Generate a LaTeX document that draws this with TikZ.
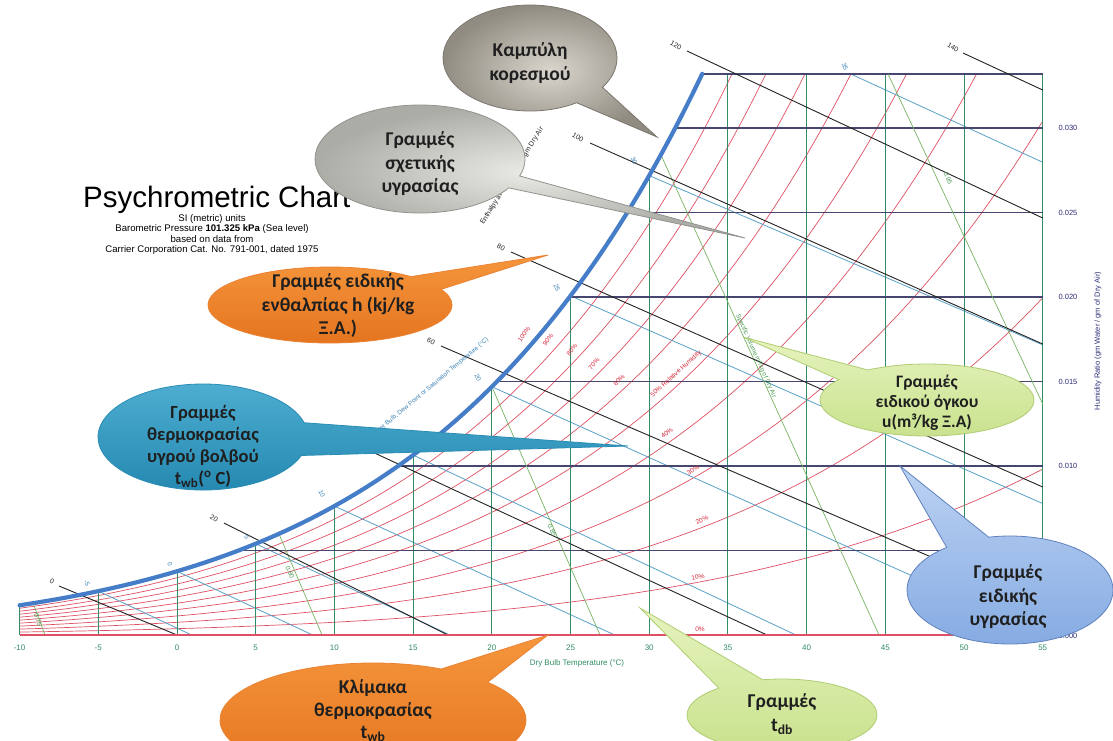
\documentclass[tikz,border=0pt]{standalone}
\usepackage{fontspec}
\setmainfont{Liberation Sans}
\newfontfamily\cbfont{Carlito}
\usetikzlibrary{shapes.callouts}
\definecolor{satblue}{RGB}{70,125,200}
\definecolor{rhred}{RGB}{222,80,100}
\definecolor{rhtext}{RGB}{215,40,60}
\definecolor{wbblue}{RGB}{90,160,200}
\definecolor{wbtext}{RGB}{60,130,180}
\definecolor{dbgreen}{RGB}{50,140,100}
\definecolor{hgray}{RGB}{70,70,110}
\definecolor{volgreen}{RGB}{120,180,100}
\definecolor{voltext}{RGB}{70,150,80}
\definecolor{enthblack}{RGB}{35,35,35}
\definecolor{axisblue}{RGB}{45,45,120}
\definecolor{grayin}{RGB}{218,214,205}
\definecolor{grayout}{RGB}{145,140,130}
\definecolor{lgrayin}{RGB}{235,235,230}
\definecolor{lgrayout}{RGB}{172,172,167}
\definecolor{orangetop}{RGB}{245,150,60}
\definecolor{orangebot}{RGB}{228,115,30}
\definecolor{orangeline}{RGB}{235,130,50}
\definecolor{tealtop}{RGB}{80,175,210}
\definecolor{tealbot}{RGB}{35,135,175}
\definecolor{tealline}{RGB}{40,140,180}
\definecolor{lgreentop}{RGB}{230,243,190}
\definecolor{lgreenbot}{RGB}{200,225,140}
\definecolor{lgreenline}{RGB}{175,205,115}
\definecolor{lbluetop}{RGB}{188,210,242}
\definecolor{lbluebot}{RGB}{132,170,226}
\definecolor{lblueline}{RGB}{95,130,190}
\tikzset{
  satcurve/.style={satblue, line width=4.2pt, line cap=round},
  rhline/.style={rhred, line width=0.7pt},
  wbline/.style={wbblue, line width=0.8pt},
  dbline/.style={dbgreen, line width=0.9pt},
  hline/.style={hgray, line width=1.1pt},
  enthline/.style={enthblack, line width=0.9pt},
  volline/.style={volgreen, line width=0.7pt},
  rhlab/.style={text=rhtext, font=\fontsize{6.5}{7}\selectfont, inner sep=0.3pt},
  wblab/.style={text=wbtext, font=\fontsize{6.5}{7}\selectfont, inner sep=0.3pt, rotate=-65},
  hlab/.style={text=enthblack, font=\fontsize{7}{8}\selectfont, inner sep=0.3pt, rotate=-30},
  vlab/.style={text=voltext, font=\fontsize{6.5}{7}\selectfont, inner sep=0.3pt},
  dblab/.style={text=dbgreen, font=\fontsize{8}{9}\selectfont, inner sep=0.5pt},
  rlab/.style={text=axisblue, font=\fontsize{7.5}{9}\selectfont, inner sep=0.5pt},
  bubble/.style={ellipse callout, inner sep=0pt, outer sep=0pt, line width=0.8pt},
  btext/.style={align=center, text=black!88, font=\cbfont\bfseries\fontsize{19.5}{23.5}\selectfont, inner sep=0pt},
}
\begin{document}
\begin{tikzpicture}[x=1pt,y=-1pt,
  declare function={
    psat(\tq)=0.61078*exp(17.27*\tq/(\tq+237.3));
    gw(\tq,\pq)=622*\pq*psat(\tq)/(101.325-\pq*psat(\tq));
    px(\tq)=177+15.74*\tq;
    py(\tq,\pq)=635-16.9*gw(\tq,\pq);
  }]
\clip (0,0) rectangle (1113,740);
\fill[white] (0,0) rectangle (1113,740);

% ---------- chart grid ----------
\begin{scope}
  \clip (19.6,74) rectangle (1042.7,635);
  \foreach \r in {1,...,9}
    \draw[rhline] plot[domain=-10:55,samples=100,smooth] ({px(\x)},{py(\x,\r/10)});
  \foreach \tw/\sl in {-5/0.47,0/0.47,5/0.47,10/0.46,15/0.47,20/0.45,25/0.44,30/0.43,35/0.46}
    \draw[wbline] ({px(\tw)},{py(\tw,1)}) -- ++(700,{700*\sl});
\end{scope}

\foreach \tv in {-10,-5,...,30}
  \draw[dbline] ({px(\tv)},635) -- ({px(\tv)},{py(\tv,1)});
\foreach \tv in {35,40,...,55}
  \draw[dbline] ({px(\tv)},635) -- ({px(\tv)},74);
\foreach \xs/\yv in {238.5/550.5,398.3/466,497.1/381.5,569.6/297,627.2/212.5,675.2/128,702/74}
  \draw[hline] (\xs,\yv) -- (1042.7,\yv);

% specific volume lines
\draw[volline] (33,603) -- (45,635);
\draw[volline] (279,534) -- (322,635);
\draw[volline] (492,387) -- (600,635);
\draw[volline] (661,155) -- (879,635);
\draw[volline] (888,74) -- (1042.7,404);

% enthalpy lines
\draw[enthline] (59,586) -- (177,635);
\draw[enthline] (224,523) -- (448,635);
\draw[enthline] (340,437) -- (767,635);
\draw[enthline] (441,346) -- (1042.7,605);
\draw[enthline] (511,252) -- (1042.7,487);
\draw[enthline] (590,143) -- (1042.7,344);
\draw[enthline] (687,51) -- (1042.7,218);
\draw[enthline] (963,53) -- (1042.7,90);

% 0 % line
\draw[rhred, line width=1.1pt] (19.6,635) -- (1042.7,635);

% saturation curve
\draw[satcurve] plot[domain=-10:33.37,samples=70,smooth] ({px(\x)},{py(\x,1)});

% ---------- labels ----------
\foreach \tv in {-10,-5,...,55}
  \node[dblab] (bx\tv) at ({px(\tv)},648) {\tv};
\node[dblab] (dbtitle) at (577,663) {Dry Bulb Temperature (°C)};

\foreach \w/\yv [count=\i] in {0.030/128,0.025/212.5,0.020/297,0.015/381.5,0.010/466,0.005/550.5,0.000/636}
  \node[rlab] (rl\i) at (1068,\yv) {\w};
\node[rlab, rotate=90] (rtitle) at (1098,341) {Humidity Ratio (gm Water / gm of Dry Air)};

\foreach \tx/\xx/\yy/\ang [count=\i] in {100\%/524/334/55, 90\%/548/340/52, 80\%/572/350/50, 70\%/594/364/48, 60\%/619/380/46, 40\%/667/433/37, 30\%/693/470/31, 20\%/702/520/23, 10\%/698/577/14, 0\%/700/629/0}
  \node[rhlab, rotate=\ang] (rh\i) at (\xx,\yy) {\tx};
\node[rhlab, rotate=42] (rh50) at (676,374) {50\% Relative Humidity};

\foreach \tx/\xx/\yy [count=\i] in {-5/87/583, 0/170/564, 5/247/537, 10/322/494, 15/400/442, 20/478/378, 25/557/288, 30/634/161, 35/845/67}
  \node[wblab] (wb\i) at (\xx,\yy) {\tx};
\node[text=wbtext, font=\fontsize{6.3}{7}\selectfont, rotate=40, inner sep=0pt] (wbtitle) at (432,386) {Wet Bulb, Dew Point or Saturation Temperature (°C)};

\foreach \tx/\xx/\yy [count=\i] in {0/52/581, 20/214/518, 40/330/432, 60/431/341, 80/501/247, 100/578/137, 120/676/45, 140/953/47}
  \node[hlab] (hl\i) at (\xx,\yy) {\tx};
\node[text=enthblack, font=\fontsize{7}{8}\selectfont, rotate=58, inner sep=0pt] (htitle) at (512,176) {Enthalpy at Saturation J / gm Dry Air};

\node[vlab, rotate=-72] (v75) at (38,620) {0.75};
\node[vlab, rotate=-67] (v80) at (290,572) {0.80};
\node[vlab, rotate=-67] (v85) at (552,530) {0.85};
\node[vlab, rotate=-65] (v95) at (948,178) {0.95};
\node[vlab, rotate=-66, font=\fontsize{6.3}{7}\selectfont] (vtitle) at (756,356) {Specific Volume m³/kg of Dry Air};

% ---------- title ----------
\node[anchor=base west, inner sep=0pt, font=\fontsize{29.5}{32}\selectfont] (title) at (83,207) {Psychrometric Chart};
\node[anchor=north, align=center, inner sep=0pt, font=\fontsize{9.6}{10.6}\selectfont] (subtitle) at (212,214)
  {SI (metric) units\\Barometric Pressure \textbf{101.325 kPa} (Sea level)\\based on data from\\Carrier Corporation Cat. No. 791-001, dated 1975};

% ---------- callouts ----------
\node[bubble, minimum width=174pt, minimum height=106pt, callout absolute pointer={(657,137)}, callout pointer arc=24,
  draw=grayout!85!black, inner color=grayin, outer color=grayout] (kamp) at (530,58) {};
\node[btext] (kampT) at (530,63) {Καμπύλη\\κορεσμού};

\node[bubble, minimum width=210pt, minimum height=108pt, callout absolute pointer={(745,238)}, callout pointer arc=14,
  draw=lgrayout!85!black, inner color=lgrayin, outer color=lgrayout] (sxet) at (420,159) {};
\node[btext] (sxetT) at (420,164) {Γραμμές\\σχετικής\\υγρασίας};

\node[bubble, minimum width=244pt, minimum height=76pt, callout absolute pointer={(548,255)}, callout pointer arc=24,
  draw=orangeline, top color=orangetop, bottom color=orangebot] (enth) at (330,305) {};
\node[btext] (enthT) at (338,306) {Γραμμές ειδικής\\ενθαλπίας h (kj/kg\\Ξ.Α.)};

\node[bubble, minimum width=210pt, minimum height=106pt, callout absolute pointer={(628,446)}, callout pointer arc=36,
  draw=tealline, top color=tealtop, bottom color=tealbot] (twb) at (203,437) {};
\node[btext, font=\cbfont\bfseries\fontsize{18.5}{22}\selectfont] (twbT) at (203,446) {Γραμμές\\θερμοκρασίας\\υγρού βολβού\\t\textsubscript{wb}(\textsuperscript{o} C)};

\node[bubble, minimum width=214pt, minimum height=72pt, callout absolute pointer={(743,337)}, callout pointer arc=22,
  draw=lgreenline, top color=lgreentop, bottom color=lgreenbot] (vol) at (927,400) {};
\node[btext, font=\cbfont\bfseries\fontsize{17.5}{20}\selectfont] (volT) at (927,403) {Γραμμές\\ειδικού όγκου\\u(m³/kg Ξ.Α)};

\node[bubble, minimum width=206pt, minimum height=108pt, callout absolute pointer={(900,466)}, callout pointer arc=26,
  draw=lblueline, top color=lbluetop, bottom color=lbluebot] (wline) at (1010,590) {};
\node[btext] (wlineT) at (1008,597) {Γραμμές\\ειδικής\\υγρασίας};

\node[bubble, minimum width=306pt, minimum height=114pt, callout absolute pointer={(548,635)}, callout pointer arc=22,
  draw=orangeline, top color=orangetop, bottom color=orangebot] (scale) at (373,720) {};
\node[btext, font=\cbfont\bfseries\fontsize{19.5}{22.5}\selectfont] (scaleT) at (373,711) {Κλίμακα\\θερμοκρασίας\\t\textsubscript{wb}};

\node[bubble, minimum width=190pt, minimum height=72pt, callout absolute pointer={(640,608)}, callout pointer arc=30,
  draw=lgreenline, top color=lgreentop, bottom color=lgreenbot] (tdb) at (782,715) {};
\node[btext, font=\cbfont\bfseries\fontsize{19.5}{24}\selectfont] (tdbT) at (782,714) {Γραμμές\\t\textsubscript{db}};
\end{tikzpicture}
\end{document}
